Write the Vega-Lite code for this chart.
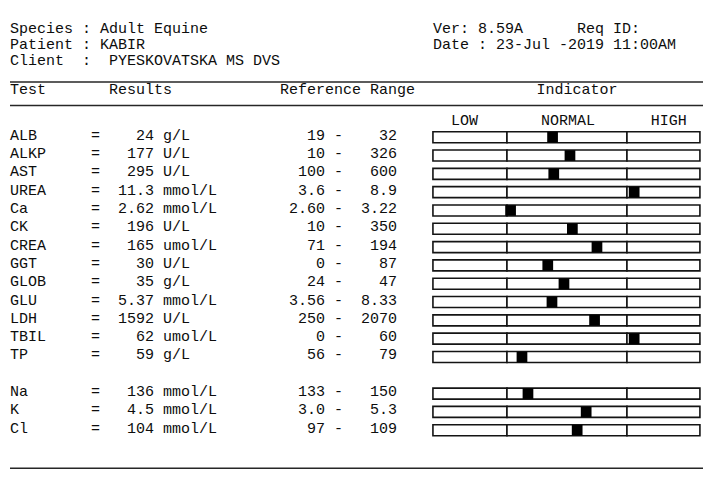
{
  "$schema": "https://vega.github.io/schema/vega-lite/v6.json",
  "width": 713,
  "height": 484,
  "autosize": {"type": "fit", "contains": "padding"},
  "padding": 0,
  "background": "white",
  "config": {
    "view": {"stroke": null},
    "text": {"font": "Liberation Mono", "fontSize": 15, "align": "left", "baseline": "middle", "dy": -2.5, "color": "#0d0d0d"}
  },
  "datasets": {
    "tests": [
      {"row": 1, "test": "ALB", "result": "24", "unit": "g/L", "low": "19", "high": "32", "ind": 0.38},
      {"row": 2, "test": "ALKP", "result": "177", "unit": "U/L", "low": "10", "high": "326", "ind": 0.525},
      {"row": 3, "test": "AST", "result": "295", "unit": "U/L", "low": "100", "high": "600", "ind": 0.39},
      {"row": 4, "test": "UREA", "result": "11.3", "unit": "mmol/L", "low": "3.6", "high": "8.9", "ind": 1.06},
      {"row": 5, "test": "Ca", "result": "2.62", "unit": "mmol/L", "low": "2.60", "high": "3.22", "ind": 0.03},
      {"row": 6, "test": "CK", "result": "196", "unit": "U/L", "low": "10", "high": "350", "ind": 0.545},
      {"row": 7, "test": "CREA", "result": "165", "unit": "umol/L", "low": "71", "high": "194", "ind": 0.75},
      {"row": 8, "test": "GGT", "result": "30", "unit": "U/L", "low": "0", "high": "87", "ind": 0.34},
      {"row": 9, "test": "GLOB", "result": "35", "unit": "g/L", "low": "24", "high": "47", "ind": 0.475},
      {"row": 10, "test": "GLU", "result": "5.37", "unit": "mmol/L", "low": "3.56", "high": "8.33", "ind": 0.375},
      {"row": 11, "test": "LDH", "result": "1592", "unit": "U/L", "low": "250", "high": "2070", "ind": 0.73},
      {"row": 12, "test": "TBIL", "result": "62", "unit": "umol/L", "low": "0", "high": "60", "ind": 1.06},
      {"row": 13, "test": "TP", "result": "59", "unit": "g/L", "low": "56", "high": "79", "ind": 0.125},
      {"row": 15, "test": "Na", "result": "136", "unit": "mmol/L", "low": "133", "high": "150", "ind": 0.175},
      {"row": 16, "test": "K", "result": "4.5", "unit": "mmol/L", "low": "3.0", "high": "5.3", "ind": 0.66},
      {"row": 17, "test": "Cl", "result": "104", "unit": "mmol/L", "low": "97", "high": "109", "ind": 0.585}
    ]
  },
  "resolve": {"scale": {"x": "independent"}},
  "layer": [
    {
      "layer": [
        {"data": {"values": [{}]}, "mark": {"type": "text", "text": "Species : Adult Equine"},
         "encoding": {"x": {"datum": 0, "type": "quantitative", "scale": {"domain": [-1.1111, 78.1111], "nice": false, "zero": false}, "axis": null},
                      "y": {"datum": -4.802, "type": "quantitative", "scale": {"domain": [-6.219, 19.663], "reverse": true, "nice": false, "zero": false}, "axis": null}}},
        {"data": {"values": [{}]}, "mark": {"type": "text", "text": "Patient : KABIR"},
         "encoding": {"x": {"datum": 0, "type": "quantitative", "scale": {"domain": [-1.1111, 78.1111], "nice": false, "zero": false}, "axis": null},
                      "y": {"datum": -3.947, "type": "quantitative", "scale": {"domain": [-6.219, 19.663], "reverse": true, "nice": false, "zero": false}, "axis": null}}},
        {"data": {"values": [{}]}, "mark": {"type": "text", "text": "Client"},
         "encoding": {"x": {"datum": 0, "type": "quantitative", "scale": {"domain": [-1.1111, 78.1111], "nice": false, "zero": false}, "axis": null},
                      "y": {"datum": -3.091, "type": "quantitative", "scale": {"domain": [-6.219, 19.663], "reverse": true, "nice": false, "zero": false}, "axis": null}}},
        {"data": {"values": [{}]}, "mark": {"type": "text", "text": ":"},
         "encoding": {"x": {"datum": 8, "type": "quantitative", "scale": {"domain": [-1.1111, 78.1111], "nice": false, "zero": false}, "axis": null},
                      "y": {"datum": -3.091, "type": "quantitative", "scale": {"domain": [-6.219, 19.663], "reverse": true, "nice": false, "zero": false}, "axis": null}}},
        {"data": {"values": [{}]}, "mark": {"type": "text", "text": "PYESKOVATSKA MS DVS"},
         "encoding": {"x": {"datum": 11, "type": "quantitative", "scale": {"domain": [-1.1111, 78.1111], "nice": false, "zero": false}, "axis": null},
                      "y": {"datum": -3.091, "type": "quantitative", "scale": {"domain": [-6.219, 19.663], "reverse": true, "nice": false, "zero": false}, "axis": null}}},
        {"data": {"values": [{}]}, "mark": {"type": "text", "text": "Ver: 8.59A"},
         "encoding": {"x": {"datum": 47, "type": "quantitative", "scale": {"domain": [-1.1111, 78.1111], "nice": false, "zero": false}, "axis": null},
                      "y": {"datum": -4.802, "type": "quantitative", "scale": {"domain": [-6.219, 19.663], "reverse": true, "nice": false, "zero": false}, "axis": null}}},
        {"data": {"values": [{}]}, "mark": {"type": "text", "text": "Req ID:"},
         "encoding": {"x": {"datum": 63, "type": "quantitative", "scale": {"domain": [-1.1111, 78.1111], "nice": false, "zero": false}, "axis": null},
                      "y": {"datum": -4.802, "type": "quantitative", "scale": {"domain": [-6.219, 19.663], "reverse": true, "nice": false, "zero": false}, "axis": null}}},
        {"data": {"values": [{}]}, "mark": {"type": "text", "text": "Date : 23-Jul -2019 11:00AM"},
         "encoding": {"x": {"datum": 47, "type": "quantitative", "scale": {"domain": [-1.1111, 78.1111], "nice": false, "zero": false}, "axis": null},
                      "y": {"datum": -3.947, "type": "quantitative", "scale": {"domain": [-6.219, 19.663], "reverse": true, "nice": false, "zero": false}, "axis": null}}},
        {"data": {"values": [{}]}, "mark": {"type": "text", "text": "Test"},
         "encoding": {"x": {"datum": 0, "type": "quantitative", "scale": {"domain": [-1.1111, 78.1111], "nice": false, "zero": false}, "axis": null},
                      "y": {"datum": -1.513, "type": "quantitative", "scale": {"domain": [-6.219, 19.663], "reverse": true, "nice": false, "zero": false}, "axis": null}}},
        {"data": {"values": [{}]}, "mark": {"type": "text", "text": "Results"},
         "encoding": {"x": {"datum": 11, "type": "quantitative", "scale": {"domain": [-1.1111, 78.1111], "nice": false, "zero": false}, "axis": null},
                      "y": {"datum": -1.513, "type": "quantitative", "scale": {"domain": [-6.219, 19.663], "reverse": true, "nice": false, "zero": false}, "axis": null}}},
        {"data": {"values": [{}]}, "mark": {"type": "text", "text": "Reference Range"},
         "encoding": {"x": {"datum": 30, "type": "quantitative", "scale": {"domain": [-1.1111, 78.1111], "nice": false, "zero": false}, "axis": null},
                      "y": {"datum": -1.513, "type": "quantitative", "scale": {"domain": [-6.219, 19.663], "reverse": true, "nice": false, "zero": false}, "axis": null}}},
        {"data": {"values": [{}]}, "mark": {"type": "text", "text": "Indicator"},
         "encoding": {"x": {"datum": 58.5, "type": "quantitative", "scale": {"domain": [-1.1111, 78.1111], "nice": false, "zero": false}, "axis": null},
                      "y": {"datum": -1.513, "type": "quantitative", "scale": {"domain": [-6.219, 19.663], "reverse": true, "nice": false, "zero": false}, "axis": null}}},
        {"data": {"values": [{}]}, "mark": {"type": "text", "text": "LOW"},
         "encoding": {"x": {"datum": 49, "type": "quantitative", "scale": {"domain": [-1.1111, 78.1111], "nice": false, "zero": false}, "axis": null},
                      "y": {"datum": 0.171, "type": "quantitative", "scale": {"domain": [-6.219, 19.663], "reverse": true, "nice": false, "zero": false}, "axis": null}}},
        {"data": {"values": [{}]}, "mark": {"type": "text", "text": "NORMAL"},
         "encoding": {"x": {"datum": 59, "type": "quantitative", "scale": {"domain": [-1.1111, 78.1111], "nice": false, "zero": false}, "axis": null},
                      "y": {"datum": 0.171, "type": "quantitative", "scale": {"domain": [-6.219, 19.663], "reverse": true, "nice": false, "zero": false}, "axis": null}}},
        {"data": {"values": [{}]}, "mark": {"type": "text", "text": "HIGH"},
         "encoding": {"x": {"datum": 71.2, "type": "quantitative", "scale": {"domain": [-1.1111, 78.1111], "nice": false, "zero": false}, "axis": null},
                      "y": {"datum": 0.171, "type": "quantitative", "scale": {"domain": [-6.219, 19.663], "reverse": true, "nice": false, "zero": false}, "axis": null}}},
        {"data": {"values": [{}]}, "mark": {"type": "rule", "color": "#262626", "strokeWidth": 1.5},
         "encoding": {"x": {"datum": 0, "type": "quantitative", "scale": {"domain": [-1.1111, 78.1111], "nice": false, "zero": false}, "axis": null},
                      "x2": {"datum": 77},
                      "y": {"datum": -2.021, "type": "quantitative", "scale": {"domain": [-6.219, 19.663], "reverse": true, "nice": false, "zero": false}, "axis": null}}},
        {"data": {"values": [{}]}, "mark": {"type": "rule", "color": "#262626", "strokeWidth": 1.5},
         "encoding": {"x": {"datum": 0, "type": "quantitative", "scale": {"domain": [-1.1111, 78.1111], "nice": false, "zero": false}, "axis": null},
                      "x2": {"datum": 77},
                      "y": {"datum": -0.738, "type": "quantitative", "scale": {"domain": [-6.219, 19.663], "reverse": true, "nice": false, "zero": false}, "axis": null}}},
        {"data": {"values": [{}]}, "mark": {"type": "rule", "color": "#262626", "strokeWidth": 1.5},
         "encoding": {"x": {"datum": 0, "type": "quantitative", "scale": {"domain": [-1.1111, 78.1111], "nice": false, "zero": false}, "axis": null},
                      "x2": {"datum": 77},
                      "y": {"datum": 19.075, "type": "quantitative", "scale": {"domain": [-6.219, 19.663], "reverse": true, "nice": false, "zero": false}, "axis": null}}},
        {"data": {"name": "tests"}, "mark": {"type": "text"},
         "encoding": {"x": {"datum": 0, "type": "quantitative", "scale": {"domain": [-1.1111, 78.1111], "nice": false, "zero": false}, "axis": null},
                      "y": {"field": "row", "type": "quantitative", "scale": {"domain": [-6.219, 19.663], "reverse": true, "nice": false, "zero": false}, "axis": null},
                      "text": {"field": "test"}}},
        {"data": {"name": "tests"}, "mark": {"type": "text", "text": "="},
         "encoding": {"x": {"datum": 9, "type": "quantitative", "scale": {"domain": [-1.1111, 78.1111], "nice": false, "zero": false}, "axis": null},
                      "y": {"field": "row", "type": "quantitative", "scale": {"domain": [-6.219, 19.663], "reverse": true, "nice": false, "zero": false}, "axis": null}}},
        {"data": {"name": "tests"}, "mark": {"type": "text", "align": "right"},
         "encoding": {"x": {"datum": 16, "type": "quantitative", "scale": {"domain": [-1.1111, 78.1111], "nice": false, "zero": false}, "axis": null},
                      "y": {"field": "row", "type": "quantitative", "scale": {"domain": [-6.219, 19.663], "reverse": true, "nice": false, "zero": false}, "axis": null},
                      "text": {"field": "result"}}},
        {"data": {"name": "tests"}, "mark": {"type": "text"},
         "encoding": {"x": {"datum": 17, "type": "quantitative", "scale": {"domain": [-1.1111, 78.1111], "nice": false, "zero": false}, "axis": null},
                      "y": {"field": "row", "type": "quantitative", "scale": {"domain": [-6.219, 19.663], "reverse": true, "nice": false, "zero": false}, "axis": null},
                      "text": {"field": "unit"}}},
        {"data": {"name": "tests"}, "mark": {"type": "text", "align": "right"},
         "encoding": {"x": {"datum": 35, "type": "quantitative", "scale": {"domain": [-1.1111, 78.1111], "nice": false, "zero": false}, "axis": null},
                      "y": {"field": "row", "type": "quantitative", "scale": {"domain": [-6.219, 19.663], "reverse": true, "nice": false, "zero": false}, "axis": null},
                      "text": {"field": "low"}}},
        {"data": {"name": "tests"}, "mark": {"type": "text", "text": "-"},
         "encoding": {"x": {"datum": 36, "type": "quantitative", "scale": {"domain": [-1.1111, 78.1111], "nice": false, "zero": false}, "axis": null},
                      "y": {"field": "row", "type": "quantitative", "scale": {"domain": [-6.219, 19.663], "reverse": true, "nice": false, "zero": false}, "axis": null}}},
        {"data": {"name": "tests"}, "mark": {"type": "text", "align": "right"},
         "encoding": {"x": {"datum": 43, "type": "quantitative", "scale": {"domain": [-1.1111, 78.1111], "nice": false, "zero": false}, "axis": null},
                      "y": {"field": "row", "type": "quantitative", "scale": {"domain": [-6.219, 19.663], "reverse": true, "nice": false, "zero": false}, "axis": null},
                      "text": {"field": "high"}}}
      ]
    },
    {
      "data": {"name": "tests"},
      "layer": [
        {"mark": {"type": "bar", "orient": "horizontal", "height": 11, "fill": "white", "stroke": "#141414", "strokeWidth": 1.6},
         "encoding": {"x": {"datum": -0.617, "type": "quantitative", "scale": {"domain": [-4.225, 1.717], "nice": false, "zero": false}, "axis": null},
                      "x2": {"datum": 0},
                      "y": {"field": "row", "type": "quantitative", "scale": {"domain": [-6.219, 19.663], "reverse": true, "nice": false, "zero": false}, "axis": null}}},
        {"mark": {"type": "bar", "orient": "horizontal", "height": 11, "fill": "white", "stroke": "#141414", "strokeWidth": 1.6},
         "encoding": {"x": {"datum": 0, "type": "quantitative", "scale": {"domain": [-4.225, 1.717], "nice": false, "zero": false}, "axis": null},
                      "x2": {"datum": 1},
                      "y": {"field": "row", "type": "quantitative", "scale": {"domain": [-6.219, 19.663], "reverse": true, "nice": false, "zero": false}, "axis": null}}},
        {"mark": {"type": "bar", "orient": "horizontal", "height": 11, "fill": "white", "stroke": "#141414", "strokeWidth": 1.6},
         "encoding": {"x": {"datum": 1, "type": "quantitative", "scale": {"domain": [-4.225, 1.717], "nice": false, "zero": false}, "axis": null},
                      "x2": {"datum": 1.608},
                      "y": {"field": "row", "type": "quantitative", "scale": {"domain": [-6.219, 19.663], "reverse": true, "nice": false, "zero": false}, "axis": null}}},
        {"mark": {"type": "square", "filled": true, "size": 115, "color": "#000000", "opacity": 1},
         "encoding": {"x": {"field": "ind", "type": "quantitative", "scale": {"domain": [-4.225, 1.717], "nice": false, "zero": false}, "axis": null},
                      "y": {"field": "row", "type": "quantitative", "scale": {"domain": [-6.219, 19.663], "reverse": true, "nice": false, "zero": false}, "axis": null}}}
      ]
    }
  ]
}
